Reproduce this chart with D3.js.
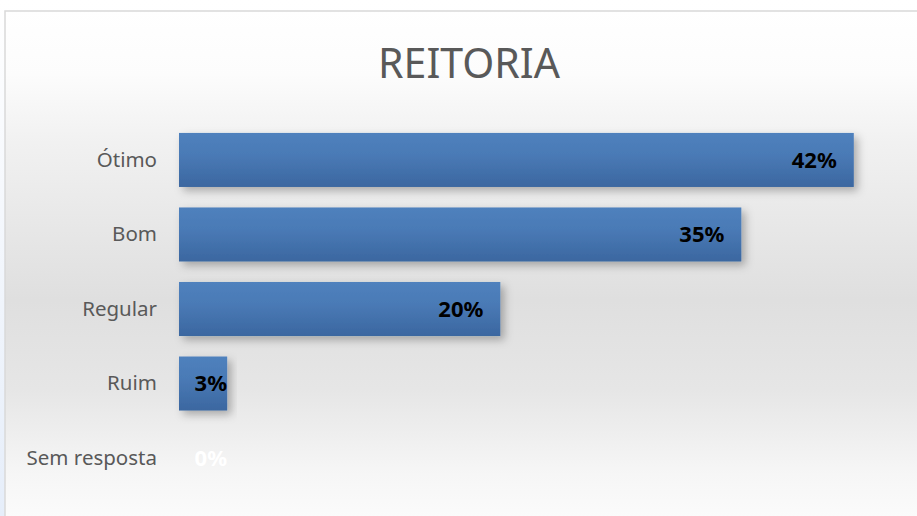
<!DOCTYPE html>
<html>
<head>
<meta charset="utf-8">
<script src="https://cdn.jsdelivr.net/npm/d3@7/dist/d3.min.js"></script>
<style>
  html, body { margin: 0; padding: 0; background: #ffffff; }
  svg { display: block; }
</style>
</head>
<body>
<svg id="chart" width="917" height="516"></svg>
<script>
// Survey results for the "REITORIA" question
const categories = ["Ótimo", "Bom", "Regular", "Ruim", "Sem resposta"];
const shares = [0.42, 0.35, 0.20, 0.03, 0.00];
const title = "REITORIA";

const W = 917, H = 516;
const svg = d3.select("#chart");
const defs = svg.append("defs");

// page strip on the far left
const pageGrad = defs.append("linearGradient").attr("id", "pageGrad")
  .attr("x1", 0).attr("y1", 0).attr("x2", 0).attr("y2", 1);
pageGrad.append("stop").attr("offset", "0%").attr("stop-color", "#ffffff");
pageGrad.append("stop").attr("offset", "100%").attr("stop-color", "#e6eefa");
svg.append("rect").attr("width", W).attr("height", H).attr("fill", "url(#pageGrad)");

// chart area background: white at the top, grey through the middle, light at the bottom
const bgGrad = defs.append("linearGradient").attr("id", "bgGrad")
  .attr("x1", 0).attr("y1", 0).attr("x2", 0).attr("y2", 1);
[["0%", "#ffffff"], ["12%", "#fcfcfc"], ["25%", "#f1f1f1"], ["55%", "#dfdfdf"],
 ["72%", "#e6e6e6"], ["88%", "#f6f6f6"], ["100%", "#fdfdfd"]]
  .forEach(([o, c]) => bgGrad.append("stop").attr("offset", o).attr("stop-color", c));

const frame = { x: 5, y: 11 };
svg.append("rect")
  .attr("x", frame.x).attr("y", frame.y)
  .attr("width", W + 10).attr("height", H + 10)
  .attr("fill", "url(#bgGrad)")
  .attr("stroke", "#d9d9d9").attr("stroke-width", 1.5);

// bar fill and shadow
const barGrad = defs.append("linearGradient").attr("id", "barGrad")
  .attr("x1", 0).attr("y1", 0).attr("x2", 0).attr("y2", 1);
barGrad.append("stop").attr("offset", "0%").attr("stop-color", "#4f81bd");
barGrad.append("stop").attr("offset", "40%").attr("stop-color", "#4a7ab6");
barGrad.append("stop").attr("offset", "100%").attr("stop-color", "#3b67a0");

const shadow = defs.append("filter").attr("id", "barShadow")
  .attr("x", "-10%").attr("y", "-20%").attr("width", "130%").attr("height", "160%");
shadow.append("feDropShadow")
  .attr("dx", 4).attr("dy", 4).attr("stdDeviation", 4)
  .attr("flood-color", "#000").attr("flood-opacity", 0.28);

// scales
const x = d3.scaleLinear().domain([0, 0.45]).range([179, 902]);
const y = d3.scaleBand().domain(categories).range([122.5, 495.5]).paddingInner(0.275).paddingOuter(0.14);

// title
svg.append("text")
  .attr("x", 469).attr("y", 78)
  .attr("text-anchor", "middle")
  .attr("font-family", "'Noto Sans', 'Open Sans', sans-serif")
  .attr("font-size", 41)
  .attr("fill", "#595959")
  .text(title);

// category axis (no line, no ticks)
const yAxis = svg.append("g")
  .attr("transform", `translate(${x(0) - 10},0)`)
  .call(d3.axisLeft(y).tickSize(0).tickPadding(12));
yAxis.select(".domain").remove();
yAxis.selectAll("text")
  .attr("font-family", "'Noto Sans', 'Open Sans', sans-serif")
  .attr("font-size", 20.5)
  .attr("fill", "#595959");

const rows = categories.map((c, i) => ({ c, v: shares[i] }));

// bars
svg.append("g").selectAll("rect")
  .data(rows.filter(d => d.v > 0))
  .join("rect")
  .attr("x", x(0))
  .attr("y", d => y(d.c))
  .attr("width", d => x(d.v) - x(0))
  .attr("height", y.bandwidth())
  .attr("fill", "url(#barGrad)")
  .attr("filter", "url(#barShadow)");

// value labels, inside the bar end
const fmt = d3.format(".0%");
svg.append("g").selectAll("text")
  .data(rows)
  .join("text")
  .attr("x", d => Math.max(x(d.v) - 17, x(0) + 48))
  .attr("y", d => y(d.c) + y.bandwidth() / 2)
  .attr("dy", "0.36em")
  .attr("text-anchor", "end")
  .attr("font-family", "'Noto Sans', 'Open Sans', sans-serif")
  .attr("font-weight", "bold")
  .attr("font-size", 22)
  .attr("fill", d => d.v > 0 ? "#000000" : "#ffffff")
  .text(d => fmt(d.v));
</script>
</body>
</html>
